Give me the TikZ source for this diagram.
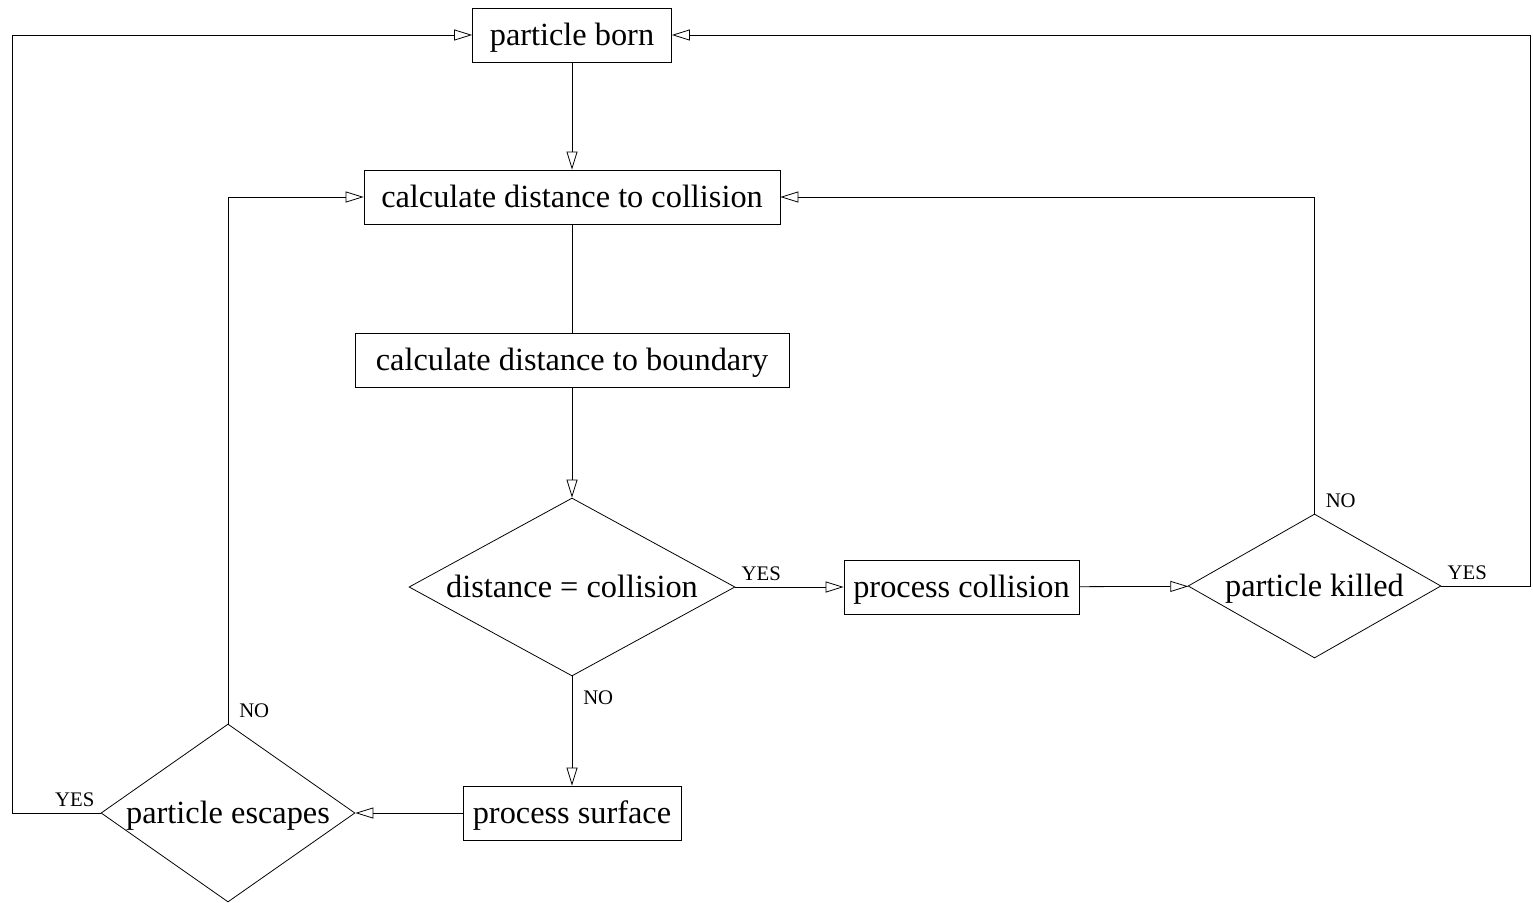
\documentclass[tikz,border=0pt]{standalone}
\usepackage{fontspec}
\setmainfont{Liberation Serif}
\usetikzlibrary{arrows.meta,shapes.geometric}

\tikzset{
	box/.style={draw, line width=0.45pt, minimum height=1.08cm, inner sep=0pt, text height=12.6pt, text depth=0.4pt, font=\fontsize{18.4}{22}\selectfont},
	decide/.style={draw, diamond, line width=0.45pt, inner sep=0pt, text height=12.6pt, text depth=0.4pt, font=\fontsize{18.4}{22}\selectfont},
	link/.style={line width=0.45pt, -{Triangle[open, length=0.36cm, width=0.22cm]}},
	plain/.style={line width=0.45pt},
	lbl/.style={font=\fontsize{11.8}{14}\selectfont}
}

\begin{document}
\begin{tikzpicture}[x=0.02cm, y=-0.02cm]
			%%%%% START %%%%%
			\useasboundingbox (0, 0) rectangle (1533, 902);
			
			\node[box, minimum width=3.98cm] (born) at (572, 35) {particle born};
			\node[box, minimum width=8.32cm] (coll) at (572, 197) {calculate distance to collision};
			\node[box, minimum width=8.68cm] (bound) at (572, 360) {calculate distance to boundary};
			
			\node[decide, aspect=1.83, minimum width=6.52cm, minimum height=3.56cm] (dist) at (572, 587) {distance = collision};
			\node[box, minimum width=4.70cm] (pcoll) at (961.5, 587) {process collision};
			\node[decide, aspect=1.76, minimum width=5.06cm, minimum height=2.88cm] (killed) at (1314.5, 586) {particle killed};
			
			\node[box, minimum width=4.36cm] (surf) at (572, 813) {process surface};
			\node[decide, aspect=1.43, minimum width=5.08cm, minimum height=3.56cm] (esc) at (228, 813) {particle escapes};
			
			\coordinate (rtop) at (1530, 35);
			\coordinate (ltop) at (12, 35);
			
			\draw[link] (born) -- (coll);
			\draw[plain] (coll) -- (bound);
			\draw[link] (bound) -- (dist);
			
			\draw[link] (dist) -- node[pos=0, above right, lbl] {YES} (pcoll);
			\draw[link] (pcoll) -- (killed);
			\draw[link] (killed.east) node[above right, lbl] {YES} -| (rtop) -- (born.east);
			\draw[link] (killed.north) node[above right, lbl, xshift=0.1cm] {NO} |- (coll.east);
			
			\draw[link] (dist) -- node[pos=0, below right, lbl, xshift=0.1cm, yshift=-0.16cm] {NO} (surf);
			\draw[link] (surf) -- (esc);
			\draw[link] (esc.north) node[above right, lbl, xshift=0.1cm] {NO} |- (coll.west);
			\draw[link] (esc.west) node[above left, lbl] {YES} -| (ltop) -- (born.west);
			
			%%%%% END %%%%%
\end{tikzpicture}
\end{document}
